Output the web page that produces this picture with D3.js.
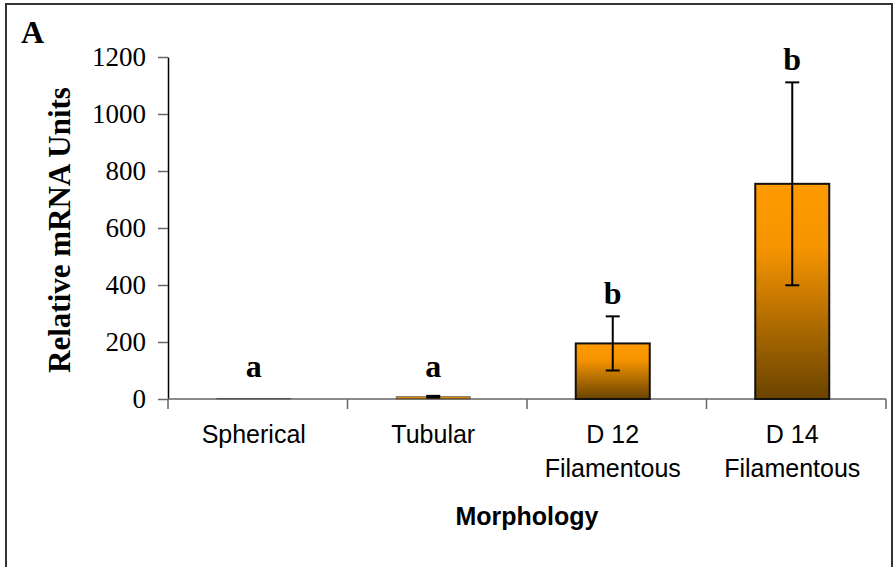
<!DOCTYPE html>
<html>
<head>
<meta charset="utf-8">
<script src="https://cdn.jsdelivr.net/npm/d3@7"></script>
<style>
  body { margin: 0; background: #fff; }
  svg { display: block; }
</style>
</head>
<body>
<div id="chart"></div>
<script>
// data
var categories = ["Spherical", "Tubular", "D 12\nFilamentous", "D 14\nFilamentous"];
var means = [2, 8, 195, 755];
var errors = [0, 3, 95, 356];
var letters = ["a", "a", "b", "b"];
var yTicks = [0, 200, 400, 600, 800, 1000, 1200];

var width = 895, height = 567;
var plotLeft = 168, plotRight = 886, plotTop = 57, plotBottom = 399;

var svg = d3.select("#chart").append("svg")
    .attr("width", width)
    .attr("height", height);

// bar gradient, orange on top fading to brown
var grad = svg.append("defs").append("linearGradient")
    .attr("id", "barFill")
    .attr("x1", 0).attr("y1", 0).attr("x2", 0).attr("y2", 1);
grad.append("stop").attr("offset", "0%").attr("stop-color", "#ff9a00");
grad.append("stop").attr("offset", "30%").attr("stop-color", "#f59400");
grad.append("stop").attr("offset", "100%").attr("stop-color", "#6a4300");

// outer frame
svg.append("rect")
    .attr("x", 6).attr("y", 4)
    .attr("width", 886).attr("height", 580)
    .attr("fill", "none")
    .attr("stroke", "#333")
    .attr("stroke-width", 2);

var x = d3.scaleBand().domain(categories).range([plotLeft, plotRight]);
var y = d3.scaleLinear().domain([0, 1200]).range([plotBottom, plotTop]);
var idx = d3.range(categories.length);
var cx = i => x(categories[i]) + x.bandwidth() / 2 - 4;

// y axis
var yAxis = svg.append("g")
    .attr("transform", "translate(" + plotLeft + ",0)")
    .call(d3.axisLeft(y).tickValues(yTicks).tickFormat(d3.format("d"))
        .tickSize(10).tickSizeOuter(0).tickPadding(12));
yAxis.select(".domain").attr("stroke", "#000").attr("stroke-width", 1.5);
yAxis.selectAll(".tick line").attr("stroke", "#666").attr("stroke-width", 1.5);
yAxis.selectAll(".tick text")
    .attr("font-family", "Liberation Serif, Times New Roman, serif")
    .attr("font-size", 27)
    .attr("fill", "#000");

// x axis with ticks between categories
var xAxis = svg.append("g")
    .attr("transform", "translate(0," + plotBottom + ")");
xAxis.append("line")
    .attr("x1", plotLeft).attr("x2", plotRight)
    .attr("stroke", "#666").attr("stroke-width", 1.5);
xAxis.selectAll(".sep")
    .data(d3.range(categories.length + 1))
    .enter().append("line")
    .attr("x1", i => i < categories.length ? x(categories[i]) : plotRight)
    .attr("x2", i => i < categories.length ? x(categories[i]) : plotRight)
    .attr("y1", 0).attr("y2", 10)
    .attr("stroke", "#666").attr("stroke-width", 1.5);

xAxis.selectAll(".lbl")
    .data(categories)
    .enter().append("text")
    .attr("text-anchor", "middle")
    .attr("font-family", "Liberation Sans, Arial, sans-serif")
    .attr("font-size", 25)
    .attr("fill", "#000")
    .each(function(d) {
        var t = d3.select(this);
        d.split("\n").forEach(function(line, j) {
            t.append("tspan")
                .attr("x", x(d) + x.bandwidth() / 2 - 4)
                .attr("y", 44 + j * 34)
                .text(line);
        });
    });

// bars
var barW = 74;
svg.selectAll(".bar")
    .data(idx)
    .enter().append("rect")
    .attr("x", i => cx(i) - barW / 2)
    .attr("y", i => y(means[i]))
    .attr("width", barW)
    .attr("height", i => plotBottom - y(means[i]))
    .attr("fill", "url(#barFill)")
    .attr("stroke", i => means[i] > 20 ? "#111" : "#555")
    .attr("stroke-width", i => means[i] > 20 ? 2 : 0.8);

// error bars
var eb = svg.selectAll(".err")
    .data(idx.filter(i => errors[i] > 0))
    .enter().append("g");
eb.append("line")
    .attr("x1", i => cx(i)).attr("x2", i => cx(i))
    .attr("y1", i => y(means[i] - errors[i]))
    .attr("y2", i => y(means[i] + errors[i]))
    .attr("stroke", "#000").attr("stroke-width", 2);
[-1, 1].forEach(function(s) {
    eb.append("line")
        .attr("x1", i => cx(i) - 7)
        .attr("x2", i => cx(i) + 7)
        .attr("y1", i => y(means[i] + s * errors[i]))
        .attr("y2", i => y(means[i] + s * errors[i]))
        .attr("stroke", "#000").attr("stroke-width", 2);
});

// significance letters
svg.selectAll(".sig")
    .data(idx)
    .enter().append("text")
    .attr("x", i => cx(i))
    .attr("y", i => Math.min(y(means[i] + errors[i]) - 12, plotBottom - 22))
    .attr("text-anchor", "middle")
    .attr("font-family", "Liberation Serif, Times New Roman, serif")
    .attr("font-weight", "bold")
    .attr("font-size", 32)
    .attr("fill", "#000")
    .text(i => letters[i]);

// axis titles
svg.append("text")
    .attr("transform", "translate(70,230) rotate(-90)")
    .attr("text-anchor", "middle")
    .attr("font-family", "Liberation Serif, Times New Roman, serif")
    .attr("font-weight", "bold")
    .attr("font-size", 31)
    .text("Relative mRNA Units");

svg.append("text")
    .attr("x", 527)
    .attr("y", 525)
    .attr("text-anchor", "middle")
    .attr("font-family", "Liberation Sans, Arial, sans-serif")
    .attr("font-weight", "bold")
    .attr("font-size", 25)
    .text("Morphology");

// panel letter
svg.append("text")
    .attr("x", 21).attr("y", 43)
    .attr("font-family", "Liberation Serif, Times New Roman, serif")
    .attr("font-weight", "bold")
    .attr("font-size", 32)
    .text("A");
</script>
</body>
</html>
